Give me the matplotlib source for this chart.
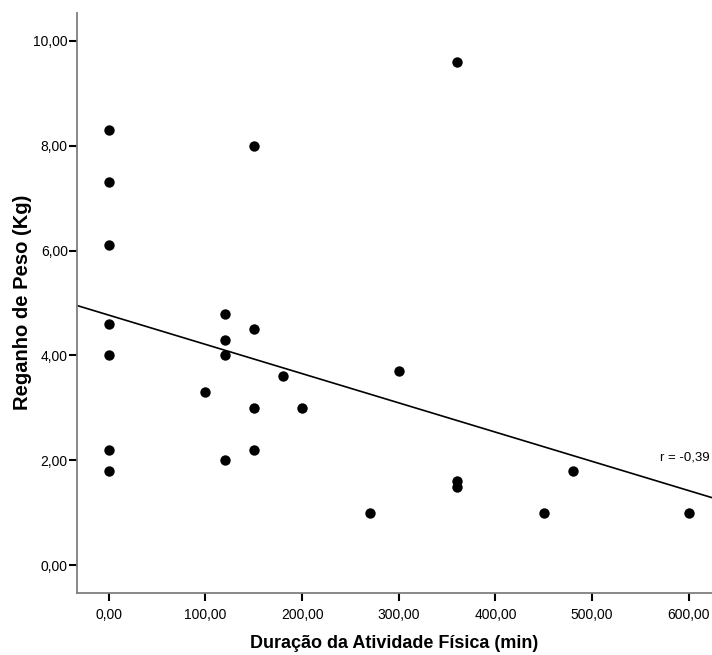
import matplotlib
matplotlib.use("Agg")
import matplotlib.pyplot as plt
import numpy as np

plt.rcParams['font.family'] = ['Liberation Sans', 'DejaVu Sans']

# Data
duracao = [0, 0, 0, 0, 0, 0, 0,
           100,
           120, 120, 120, 120,
           150, 150, 150, 150,
           180, 200, 270, 300,
           360, 360, 360,
           450, 480, 600]
reganho = [8.3, 7.3, 6.1, 4.6, 4.0, 2.2, 1.8,
           3.3,
           4.8, 4.3, 4.0, 2.0,
           8.0, 4.5, 3.0, 2.2,
           3.6, 3.0, 1.0, 3.7,
           9.6, 1.6, 1.5,
           1.0, 1.8, 1.0]
# Fit line coefficients (as shown in the chart)
fit_intercept = 4.77
fit_slope = -0.00558
r_text = "r = -0,39"

x_ticks = [0, 100, 200, 300, 400, 500, 600]
y_ticks = [0, 2, 4, 6, 8, 10]

fig = plt.figure(figsize=(7.12, 6.55), dpi=100)
ax = fig.add_axes([0.108, 0.0947, 0.892, 0.886])

xmin, xmax = -33, 624
ymin, ymax = -0.53, 10.54

ax.scatter(duracao, reganho, s=56, color='black', zorder=3, linewidths=0)
xs = np.array([xmin, xmax])
ax.plot(xs, fit_intercept + fit_slope * xs, color='black', lw=1.2, zorder=2)
ax.text(570, 2.05, r_text, fontsize=9.5, va='center', ha='left')

ax.set_xlim(xmin, xmax)
ax.set_ylim(ymin, ymax)
ax.set_xticks(x_ticks)
ax.set_yticks(y_ticks)
ax.set_xticklabels([f"{v:.2f}".replace('.', ',') for v in x_ticks], fontsize=10)
ax.set_yticklabels([f"{v:.2f}".replace('.', ',') for v in y_ticks], fontsize=10)

for s in ['top', 'right']:
    ax.spines[s].set_visible(False)
for s in ['left', 'bottom']:
    ax.spines[s].set_color('#7f7f7f')
    ax.spines[s].set_linewidth(1.3)
ax.tick_params(axis='x', length=6, width=1.5, color='black', pad=5, direction='out')
ax.tick_params(axis='y', length=6, width=1.5, color='black', pad=0.5, direction='out')

ax.set_xlabel("Duração da Atividade Física (min)", fontsize=13, fontweight='bold', labelpad=9)
ax.set_ylabel("Reganho de Peso (Kg)", fontsize=14.5, fontweight='bold', labelpad=1)

fig.savefig("out.png", dpi=100)
